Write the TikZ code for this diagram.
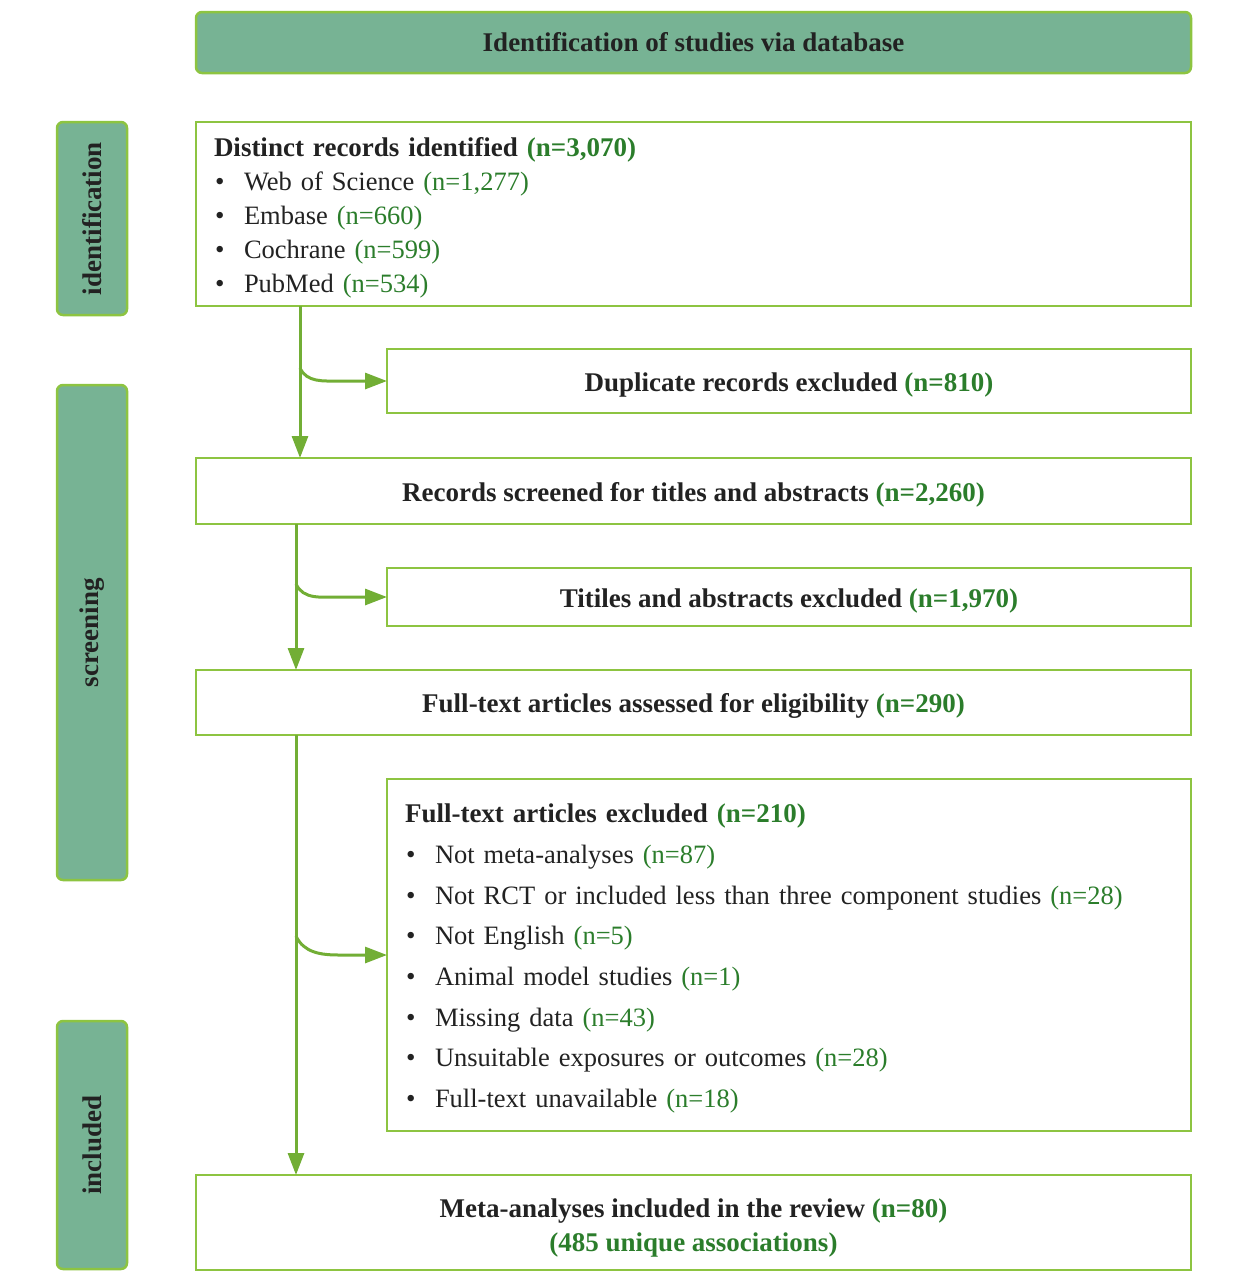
\documentclass[tikz,border=0pt]{standalone}
\usepackage{fontspec}
\setmainfont{Liberation Serif}
\usepackage{tikz}
\usetikzlibrary{arrows.meta,positioning,calc}
\definecolor{PrismaFill}{HTML}{77B394}
\definecolor{PrismaEdge}{HTML}{8DC441}
\definecolor{PrismaArrow}{HTML}{72AE35}
\definecolor{PrismaCount}{HTML}{2B7D2B}
\definecolor{PrismaText}{HTML}{222222}
\newcommand{\cnt}[1]{{\color{PrismaCount}(n=#1)}}
\newcommand{\itm}[1]{\makebox[15pt][l]{\hspace{0.5pt}\textbullet}{\fontsize{13.25}{17}\selectfont #1}}

\begin{document}
\begin{tikzpicture}[
  x=0.5pt,y=-0.5pt,
  every node/.style={font=\fontsize{13.5}{17}\selectfont,text=PrismaText,outer sep=0pt},
  head/.style={draw=PrismaEdge,fill=PrismaFill,line width=1.25pt,rounded corners=3pt,font=\fontsize{13.5}{17}\selectfont\bfseries},
  side/.style={head,rotate=90,minimum height=35pt,inner sep=0pt},
  box/.style={draw=PrismaEdge,line width=1.25pt,anchor=north west,align=center,inner sep=0pt,
    execute at begin node={\rule{0pt}{13pt}},font=\fontsize{13.5}{17}\selectfont\bfseries},
  wide/.style={box,minimum width=497.5pt},
  narrow/.style={box,minimum width=402pt},
  flow/.style={draw=PrismaArrow,line width=1.5pt,-{Triangle[length=11pt,width=8pt]}},
]
\useasboundingbox (0,0) rectangle (1241,1280);

% header and stage labels
\node[head,minimum width=497.5pt,minimum height=30.5pt] (hdr) at (693.5,42.5) {Identification of studies via database};
\node[side,minimum width=96.5pt] (sideid) at (92,218.5) {identification};
\node[side,minimum width=247.5pt] (sidescr) at (92,632.5) {screening};
\node[side,minimum width=124pt] (sideinc) at (92,1145) {included};

% main column
\node[wide,minimum height=92pt,text width=479.5pt,align=left,inner xsep=9pt,font=\fontsize{13.5}{17}\selectfont] (recs) at (196,122) {%
  \textbf{Distinct records identified \cnt{3,070}}\\
  \itm{Web of Science \cnt{1,277}}\\
  \itm{Embase \cnt{660}}\\
  \itm{Cochrane \cnt{599}}\\
  \itm{PubMed \cnt{534}}};
\node[narrow,minimum height=32pt] (dup) at (387,349) {Duplicate records excluded \cnt{810}};
\node[wide,minimum height=33pt] (screen) at (196,458) {Records screened for titles and abstracts \cnt{2,260}};
\node[narrow,minimum height=29pt] (titles) at (387,568) {Titiles and abstracts excluded \cnt{1,970}};
\node[wide,minimum height=32.5pt] (full) at (196,670) {Full-text articles assessed for eligibility \cnt{290}};
\node[narrow,minimum height=176pt,text width=384pt,align=left,inner xsep=9pt,font=\fontsize{13.5}{20.35}\selectfont] (excl) at (387,779) {%
  \textbf{Full-text articles excluded \cnt{210}}\\
  \itm{Not meta-analyses \cnt{87}}\\
  \itm{Not RCT or included less than three component studies \cnt{28}}\\
  \itm{Not English \cnt{5}}\\
  \itm{Animal model studies \cnt{1}}\\
  \itm{Missing data \cnt{43}}\\
  \itm{Unsuitable exposures or outcomes \cnt{28}}\\
  \itm{Full-text unavailable \cnt{18}}};
\node[wide,minimum height=47.5pt] (incl) at (196,1175) {\rule{0pt}{15pt}Meta-analyses included in the review \cnt{80}\\
  {\color{PrismaCount}(485 unique associations)}};

% connectors
\coordinate (b1) at (300,368);
\coordinate (b2) at (296,584);
\coordinate (b3) at (296,936);
\draw[flow] ([xshift=52pt]recs.south west) -- ([xshift=52pt]screen.north west);
\draw[flow] ([xshift=50pt]screen.south west) -- ([xshift=50pt]full.north west);
\draw[flow] ([xshift=50pt]full.south west) -- ([xshift=50pt]incl.north west);
\draw[flow] (b1) to[out=-65,in=180] ([xshift=-24pt]dup.west) -- (dup.west);
\draw[flow] (b2) to[out=-65,in=180] ([xshift=-24pt]titles.west) -- (titles.west);
\draw[flow] (b3) to[out=-65,in=180] ([xshift=-24pt]excl.west) -- (excl.west);
\end{tikzpicture}
\end{document}
